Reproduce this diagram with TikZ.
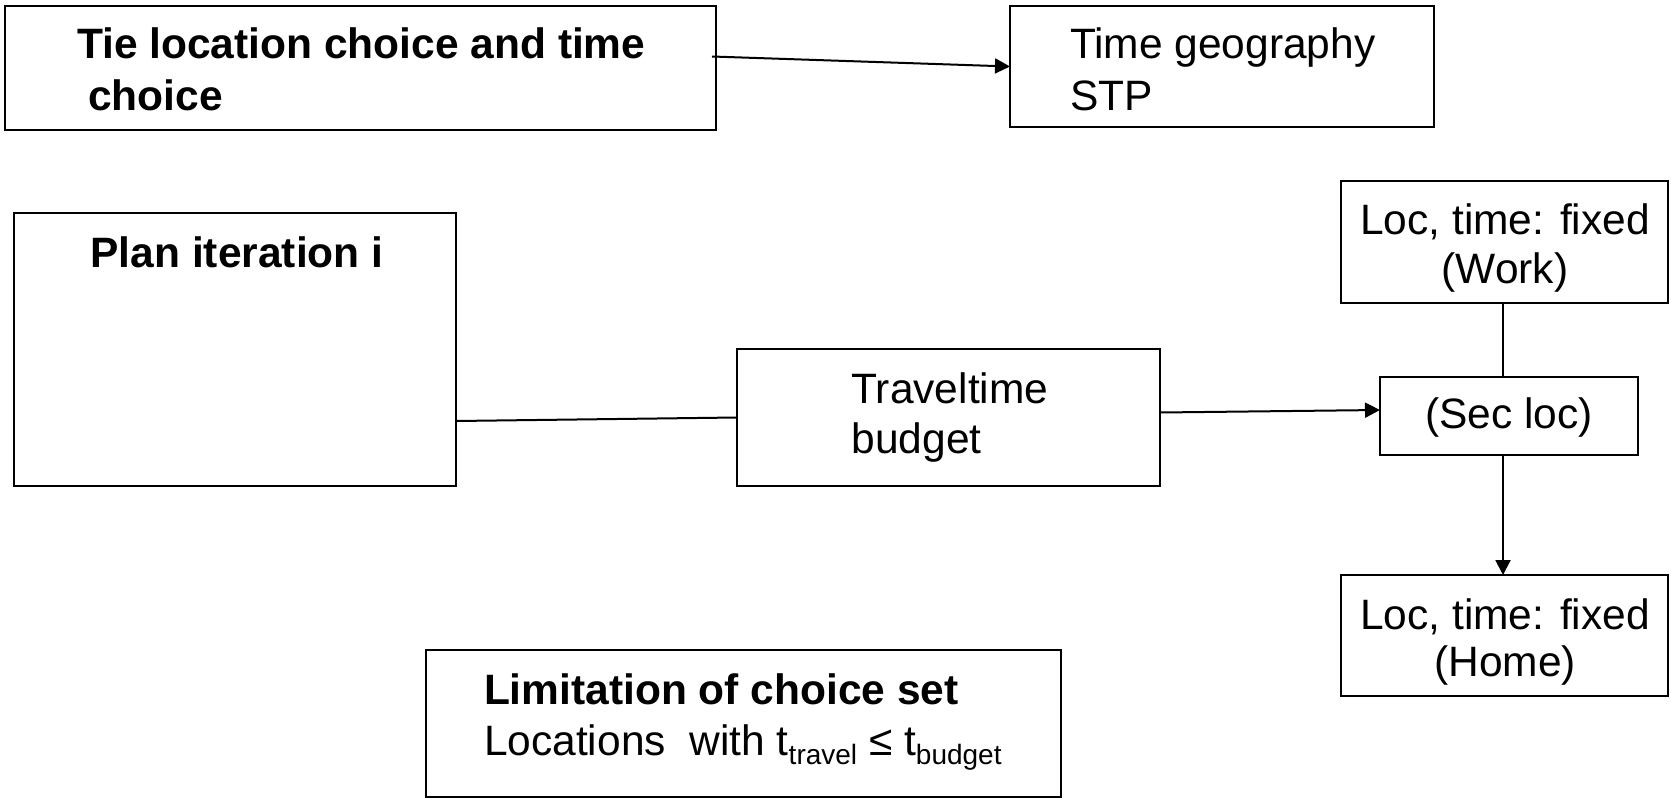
\documentclass[tikz,border=0pt]{standalone}
\usepackage{fontspec}
\setmainfont{Liberation Sans}
\usetikzlibrary{arrows.meta}
\begin{document}
\begin{tikzpicture}[x=1pt,y=-1pt,
  box/.style={draw, line width=2pt, inner sep=0pt, outer sep=0pt},
  txt/.style={inner sep=0pt, outer sep=0pt, font=\fontsize{42.5}{50}\selectfont},
  btxt/.style={inner sep=0pt, outer sep=0pt, font=\fontsize{42.5}{50}\selectfont\bfseries},
  conn/.style={line width=2pt},
  arr/.style={conn, -{Triangle[length=15pt,width=15pt]}}]
\useasboundingbox (0,0) rectangle (1671,798);
% boxes
\node[box, minimum width=711pt, minimum height=124pt] (tie) at (360.5,68) {};
\node[box, minimum width=424pt, minimum height=121pt] (time) at (1222,66.5) {};
\node[box, minimum width=442pt, minimum height=273pt] (plan) at (235,349.5) {};
\node[box, minimum width=423pt, minimum height=137pt] (travel) at (948.5,417.5) {};
\node[box, minimum width=327pt, minimum height=122pt] (work) at (1504.5,242) {};
\node[box, minimum width=258pt, minimum height=78pt] (sec) at (1509,416) {};
\node[box, minimum width=327pt, minimum height=121pt] (home) at (1504.5,635.5) {};
\node[box, minimum width=635pt, minimum height=147pt] (lim) at (743.5,723.5) {};
% texts
\node[btxt, anchor=base west] (tie1) at (77,58.6) {Tie location choice and time};
\node[btxt, anchor=base west] (tie2) at (88,110) {choice};
\node[txt, anchor=base west] (time1) at (1070,58.6) {Time geography};
\node[txt, anchor=base west] (time2) at (1070,110) {STP};
\node[btxt, anchor=base west] (plan1) at (90.6,267.5) {Plan iteration i};
\node[txt, anchor=base west] (trav1) at (851.5,403) {Traveltime};
\node[txt, anchor=base west] (trav2) at (851.5,453) {budget};
\node[txt, anchor=base] (work1) at (1505,234.5) {Loc, time: fixed};
\node[txt, anchor=base] (work2) at (1505,283) {(Work)};
\node[txt, anchor=base] (sec1) at (1509,428.5) {(Sec loc)};
\node[txt, anchor=base] (home1) at (1505,629) {Loc, time: fixed};
\node[txt, anchor=base] (home2) at (1505,676) {(Home)};
\node[btxt, anchor=base west] (lim1) at (484,704.5) {Limitation of choice set};
\node[txt, anchor=base west] (lim2) at (484,755.6) {Locations\ \ with t\raisebox{-9pt}{\fontsize{28}{28}\selectfont travel} ≤ t\raisebox{-9pt}{\fontsize{28}{28}\selectfont budget}};
% connectors
\coordinate (a1) at (712,56.5);
\draw[arr] (a1) -- (time.west);
\draw[conn] ([yshift=-71.5pt]plan.east) -- (travel.west);
\draw[arr] ([yshift=5pt]travel.east) -- ([yshift=6pt]sec.west);
\coordinate (vx) at (1503,0);
\draw[conn] (work.south -| vx) -- (sec.north -| vx);
\draw[arr] (sec.south -| vx) -- (home.north -| vx);
\end{tikzpicture}
\end{document}
